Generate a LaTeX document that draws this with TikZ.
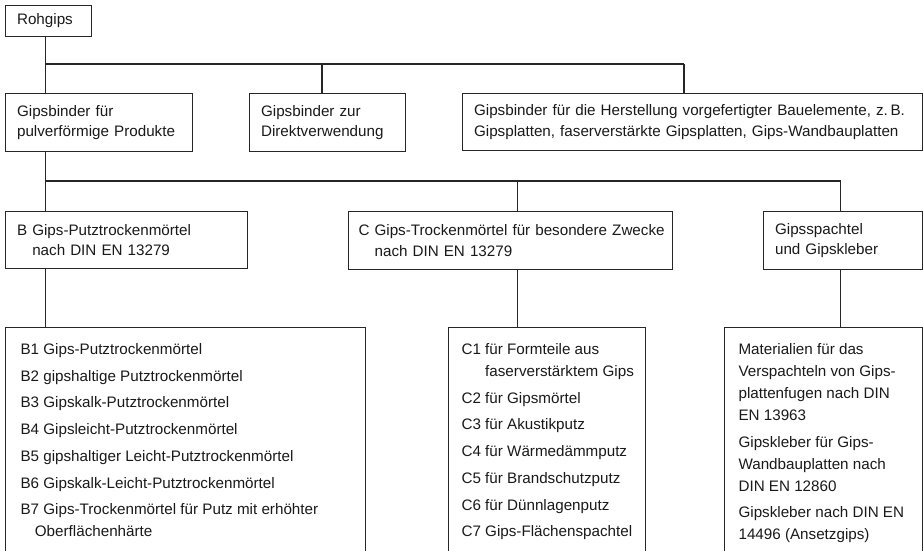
\documentclass[tikz,border=0pt]{standalone}
\usepackage{fontspec}
\setmainfont{Liberation Sans}
\newcommand{\hfont}{\fontsize{15.2}{20.5}\selectfont}
\newcommand{\lfont}{\fontsize{15.2}{22}\selectfont}
\newcommand{\igap}{4.7pt}
\begin{document}
\begin{tikzpicture}[x=1pt,y=-1pt,
  line width=1.1pt, draw=black!85, text=black!90,
  hbox/.style={draw, rectangle, anchor=north west, inner xsep=11.5pt, inner ysep=0pt, align=left, font=\hfont},
  lbox/.style={draw, rectangle, anchor=north west, inner sep=0pt},
  ltext/.style={anchor=north west, inner sep=0pt, align=left, font=\lfont},
  conn/.style={draw, line width=1.1pt, black!85}]
\useasboundingbox (0,0) rectangle (923,550);
\clip (0,0) rectangle (923,550);

% boxes
\node[hbox, text width=63pt, minimum height=31pt] (roh) at (5,5) {Rohgips};
\node[hbox, text width=164pt, minimum height=58pt] (a1) at (5,93) {Gipsbinder für\\pulverförmige Produkte};
\node[hbox, text width=133pt, minimum height=58pt] (a2) at (249,93) {Gipsbinder zur\\Direktverwendung};
\node[hbox, text width=437pt, minimum height=57pt] (a3) at (462,93) {Gipsbinder für die Herstellung vorgefertigter Bauelemente, z.\,B.\\Gipsplatten, faserverstärkte Gipsplatten, Gips-Wandbauplatten};
\node[hbox, text width=219pt, minimum height=57pt] (b) at (5,211) {B Gips-Putztrockenmörtel\\\hphantom{B\ }nach DIN EN 13279};
\node[hbox, inner xsep=10pt, text width=304pt, minimum height=58pt] (c) at (348,211) {\mbox{C Gips-Trockenmörtel für besondere Zwecke}\\\hphantom{C\ }nach DIN EN 13279};
\node[hbox, text width=136pt, minimum height=58pt] (d) at (763,211) {Gipsspachtel\\und Gipskleber};

\node[lbox, minimum width=360pt, minimum height=240pt] (bl) at (5,327) {};
\node[lbox, minimum width=197pt, minimum height=240pt] (cl) at (448,327) {};
\node[lbox, minimum width=198pt, minimum height=240pt] (dl) at (724,327) {};

\node[ltext] (blt) at ([xshift=15pt,yshift=-16pt]bl.north west) {%
B1 Gips-Putztrockenmörtel\\[\igap]
B2 gipshaltige Putztrockenmörtel\\[\igap]
B3 Gipskalk-Putztrockenmörtel\\[\igap]
B4 Gipsleicht-Putztrockenmörtel\\[\igap]
B5 gipshaltiger Leicht-Putztrockenmörtel\\[\igap]
B6 Gipskalk-Leicht-Putztrockenmörtel\\[\igap]
B7 Gips-Trockenmörtel für Putz mit erhöhter\\
\hphantom{B\ }Oberflächenhärte};

\node[ltext] (clt) at ([xshift=13pt,yshift=-16pt]cl.north west) {%
C1 für Formteile aus\\
\hphantom{C1\ }faserverstärktem Gips\\[\igap]
C2 für Gipsmörtel\\[\igap]
C3 für Akustikputz\\[\igap]
C4 für Wärmedämmputz\\[\igap]
C5 für Brandschutzputz\\[\igap]
C6 für Dünnlagenputz\\[\igap]
C7 Gips-Flächenspachtel};

\node[ltext] (dlt) at ([xshift=14pt,yshift=-16pt]dl.north west) {%
Materialien für das\\
Verspachteln von Gips-\\
plattenfugen nach DIN\\
EN 13963\\[\igap]
Gipskleber für Gips-\\
Wandbauplatten nach\\
DIN EN 12860\\[\igap]
Gipskleber nach DIN EN\\
14496 (Ansetzgips)};

% junctions
\coordinate (j1) at (45.5,64);
\coordinate (j2) at (322,64);
\coordinate (j3) at (684,64);
\coordinate (k1) at (45.5,181);
\coordinate (k2) at (517.5,181);
\coordinate (k3) at (840.5,181);

% connectors
\draw[conn] (roh.south -| j1) -- (a1.north -| j1);
\draw[conn] (j1) -- (j3);
\draw[conn] (j2) -- (a2.north -| j2);
\draw[conn] (j3) -- (a3.north -| j3);
\draw[conn] (a1.south -| k1) -- (b.north -| k1);
\draw[conn] (k1) -- (k3) -- (d.north -| k3);
\draw[conn] (k2) -- (c.north -| k2);
\draw[conn] (b.south -| k1) -- (bl.north -| k1);
\draw[conn] (c.south -| k2) -- (cl.north -| k2);
\draw[conn] (d.south -| k3) -- (dl.north -| k3);
\end{tikzpicture}
\end{document}
